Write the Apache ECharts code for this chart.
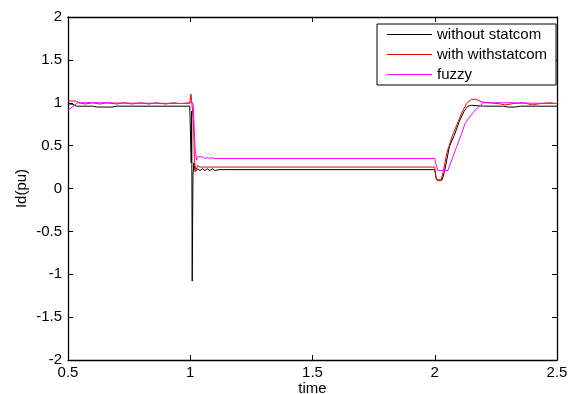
<!DOCTYPE html>
<html>
<head>
<meta charset="utf-8">
<script src="https://cdn.jsdelivr.net/npm/echarts@6/dist/echarts.min.js"></script>
<style>
  html, body { margin: 0; padding: 0; background: #fff; }
  #chart { width: 573px; height: 394px; }
</style>
</head>
<body>
<div id="chart"></div>
<script>
// series names
const seriesNames = ["without statcom", "with withstatcom", "fuzzy"];

// without statcom (black)
const tBlack = [0.5, 0.52, 0.535, 0.6, 0.62, 0.68, 0.7, 0.998, 1.003, 1.004, 1.006, 1.008, 1.011, 1.015, 1.02, 1.03, 1.04, 1.05, 1.06, 1.07, 1.08, 1.09, 1.1, 1.12, 1.15, 2.0, 2.005, 2.01, 2.03, 2.04, 2.06, 2.08, 2.1, 2.12, 2.135, 2.15, 2.2, 2.28, 2.3, 2.33, 2.35, 2.5];
const vBlack = [0.99, 0.98, 0.96, 0.96, 0.95, 0.95, 0.96, 0.96, 0.96, 0.3, 0.9, -1.08, 0.15, 0.3, 0.2, 0.23, 0.21, 0.23, 0.21, 0.23, 0.21, 0.23, 0.21, 0.22, 0.22, 0.22, 0.13, 0.1, 0.1, 0.2, 0.49, 0.62, 0.78, 0.9, 0.96, 0.97, 0.96, 0.96, 0.95, 0.95, 0.96, 0.96];

// with statcom (red)
const tRed = [0.5, 0.53, 0.545, 0.57, 0.6, 0.63, 0.66, 0.7, 0.73, 0.76, 0.8, 0.83, 0.86, 0.9, 0.93, 0.96, 0.998, 1.003, 1.01, 1.013, 1.017, 1.022, 1.03, 1.04, 1.05, 2.0, 2.005, 2.012, 2.025, 2.035, 2.05, 2.07, 2.09, 2.11, 2.13, 2.15, 2.17, 2.19, 2.22, 2.26, 2.29, 2.32, 2.36, 2.4, 2.43, 2.47, 2.5];
const vRed = [1.02, 1.02, 1.0, 0.985, 1.0, 0.985, 1.0, 0.985, 1.0, 0.985, 1.0, 0.985, 1.0, 0.985, 1.0, 0.99, 1.0, 1.1, 1.1, 0.8, 0.35, 0.2, 0.27, 0.25, 0.25, 0.25, 0.12, 0.09, 0.09, 0.2, 0.42, 0.6, 0.74, 0.88, 0.99, 1.04, 1.04, 1.01, 1.0, 0.99, 0.975, 0.99, 1.0, 0.975, 0.99, 1.0, 0.99];

// fuzzy (magenta)
const tMag = [0.5, 0.54, 0.6, 0.998, 1.004, 1.012, 1.02, 1.026, 1.03, 1.035, 1.04, 1.045, 1.05, 1.06, 1.07, 1.08, 1.09, 1.1, 1.11, 2.0, 2.003, 2.013, 2.054, 2.065, 2.09, 2.11, 2.124, 2.15, 2.17, 2.2, 2.3, 2.5];
const vMag = [0.91, 1.0, 1.0, 0.99, 1.02, 0.98, 0.45, 0.33, 0.37, 0.35, 0.37, 0.35, 0.37, 0.35, 0.36, 0.35, 0.36, 0.35, 0.35, 0.35, 0.3, 0.21, 0.21, 0.3, 0.49, 0.64, 0.76, 0.86, 0.93, 1.0, 1.0, 0.99];

const colors = ["#000000", "#ff0000", "#ff00ff"];

function zip(t, v) {
  return t.map((x, i) => [x, v[i]]);
}

const font = "Liberation Sans, Arial, sans-serif";
const fs = 15;

let myChart = echarts.init(document.getElementById("chart"));

// 坐标轴公共样式
const axisLine = { show: true, onZero: false, lineStyle: { color: "#000", width: 1.3 } };
const axisTick = { show: true, inside: true, length: 5, lineStyle: { color: "#000" } };

let option = {
  backgroundColor: "#fff",
  animation: false,
  grid: { left: 68, top: 17, width: 489, height: 343, containLabel: false, outerBoundsMode: "none" },
  legend: {
    orient: "vertical",
    left: 377,
    top: 24,
    padding: [3, 9, 3, 10],
    itemGap: 5,
    itemWidth: 45,
    itemHeight: 1,
    icon: "rect",
    itemStyle: { borderWidth: 0 },
    borderColor: "#000",
    borderWidth: 1,
    borderRadius: 0,
    backgroundColor: "#fff",
    textStyle: { fontFamily: font, fontSize: fs, color: "#000", lineHeight: 15 },
    data: seriesNames
  },
  xAxis: [
    {
      type: "value",
      min: 0.5,
      max: 2.5,
      interval: 0.5,
      name: "time",
      nameLocation: "middle",
      nameGap: 21,
      nameMoveOverlap: false,
      nameTextStyle: { fontFamily: font, fontSize: fs, color: "#000" },
      axisLine: axisLine,
      axisTick: axisTick,
      axisLabel: { fontFamily: font, fontSize: fs, color: "#000", margin: 5 },
      splitLine: { show: false }
    },
    {
      type: "value",
      position: "top",
      min: 0.5,
      max: 2.5,
      interval: 0.5,
      axisLine: axisLine,
      axisTick: axisTick,
      axisLabel: { show: false },
      splitLine: { show: false }
    }
  ],
  yAxis: [
    {
      type: "value",
      min: -2,
      max: 2,
      interval: 0.5,
      name: "Id(pu)",
      nameLocation: "middle",
      nameGap: 39,
      nameMoveOverlap: false,
      nameTextStyle: { fontFamily: font, fontSize: fs, color: "#000" },
      axisLine: axisLine,
      axisTick: axisTick,
      axisLabel: { fontFamily: font, fontSize: fs, color: "#000", margin: 6 },
      splitLine: { show: false }
    },
    {
      type: "value",
      position: "right",
      min: -2,
      max: 2,
      interval: 0.5,
      axisLine: axisLine,
      axisTick: axisTick,
      axisLabel: { show: false },
      splitLine: { show: false }
    }
  ],
  series: [
    { name: seriesNames[0], data: zip(tBlack, vBlack) },
    { name: seriesNames[1], data: zip(tRed, vRed) },
    { name: seriesNames[2], data: zip(tMag, vMag) }
  ].map((s, i) => ({
    name: s.name,
    type: "line",
    data: s.data,
    symbol: "none",
    sampling: "none",
    color: colors[i],
    lineStyle: { color: colors[i], width: 1 }
  }))
};

myChart.setOption(option);
</script>
</body>
</html>
